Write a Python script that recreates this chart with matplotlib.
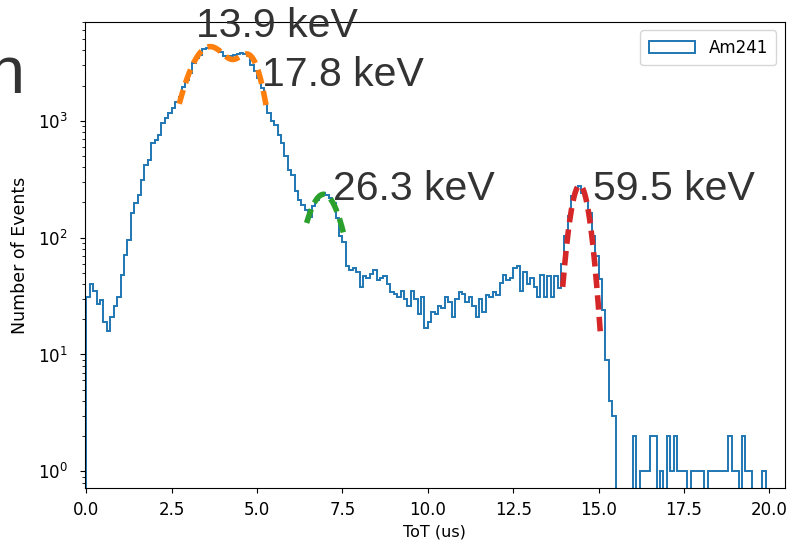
import numpy as np
import matplotlib
matplotlib.use('Agg')
import matplotlib.pyplot as plt

# ToT histogram of the Am241 source, 0.1 us bins from 0.0 to 20.0 us
tot_min = 0.0
tot_max = 20.0
counts = [31, 40, 35, 27, 29, 19, 16, 21, 26, 31,
          48, 71, 95, 163, 199, 233, 313, 420, 465, 650,
          690, 760, 960, 1060, 1170, 1290, 1450, 1600, 1950, 2240,
          2570, 3130, 3460, 3680, 4080, 4200, 4320, 4200, 4100, 3900,
          3600, 3500, 3550, 3650, 3700, 3800, 3750, 3550, 3020, 2640,
          2330, 1920, 1430, 1170, 1000, 920, 760, 650,
          500, 380, 345, 250, 211, 190, 173, 151, 185, 211,
          233, 242, 233, 218, 198, 148, 103, 91, 57,
          53, 55, 51, 38, 47, 45, 49, 53, 43, 45,
          47, 40, 34, 33, 31, 35, 30, 26, 35,
          30, 22, 31, 17, 19, 23, 22, 26, 25, 31,
          28, 21, 30, 34, 33, 28, 31,
          26, 21, 30, 23, 32, 31, 34, 32, 41,
          48, 43, 45, 55, 57, 35, 51, 40, 45, 38,
          31, 48, 31, 47, 31, 47, 37, 59, 103, 152,
          225, 268, 275, 242, 211, 163, 103, 69, 44, 24,
          9, 4, 3,
          0, 0, 0, 0, 0, 2, 0, 1, 1, 1,
          2, 2, 0, 1, 0, 2, 1, 2, 1, 1,
          1, 0, 1, 1, 1, 1, 0, 1, 1, 1,
          1, 1, 1, 2, 1, 1, 0, 2, 1, 1,
          0, 0, 0, 1, 0]

# gaussian fits: (amplitude, mean, sigma) and fit range
fit_orange = [(4300, 3.62, 0.60), (3000, 4.80, 0.35)]
range_orange = (2.72, 5.28)
fit_green = [(235, 6.95, 0.47)]
range_green = (6.45, 7.55)
fit_red = [(280, 14.45, 0.25)]
range_red = (13.95, 15.05)

peak_labels = ['13.9 keV', '17.8 keV', '26.3 keV', '59.5 keV']


def gauss_sum(x, pars):
    y = np.zeros_like(x)
    for a, m, s in pars:
        y += a * np.exp(-(x - m) ** 2 / (2 * s ** 2))
    return y


edges = np.linspace(tot_min, tot_max, len(counts) + 1)
centers = 0.5 * (edges[:-1] + edges[1:])

fig = plt.figure(figsize=(7.87, 5.5), dpi=100)
ax = fig.add_axes([0.108, 0.1127, 0.889, 0.8473])

ax.hist(centers, bins=edges, weights=counts, histtype='step',
        color='#1f77b4', lw=1.4, label='Am241')

dash = (0, (2.6, 1.3))
for pars, (lo, hi), col in [(fit_orange, range_orange, '#ff7f0e'),
                            (fit_green, range_green, '#2ca02c'),
                            (fit_red, range_red, '#d62728')]:
    xx = np.linspace(lo, hi, 200)
    ax.plot(xx, gauss_sum(xx, pars), color=col, lw=4, linestyle=dash)

ax.set_yscale('log')
ax.set_xlim(-0.04, 20.45)
ax.set_ylim(0.72, 7000)
ax.tick_params(axis='both', labelsize=12)
ax.tick_params(axis='x', pad=6)
ax.tick_params(axis='y', pad=9)
ax.set_xlabel('ToT (us)', fontsize=11.5)
ax.set_ylabel('Number of Events', fontsize=12.5, labelpad=6)
ax.legend(loc='upper right', fontsize=12, handlelength=2.8,
          borderpad=0.5)

# big annotation texts (pixel positions -> figure fraction)
W, H = 787, 550
txt = dict(fontsize=29.5, color='#333333', family='Liberation Sans')
pos = [(196, 37), (262, 86), (333, 200), (593, 200)]
for lab, (px, py) in zip(peak_labels, pos):
    fig.text(px / W, 1 - py / H, lab, ha='left', va='baseline', **txt)
fig.text(-12 / W, 1 - 93 / H, 'n', ha='left', va='baseline',
         fontsize=48, color='#333333', family='Liberation Sans')

fig.savefig('out.png', dpi=100)
